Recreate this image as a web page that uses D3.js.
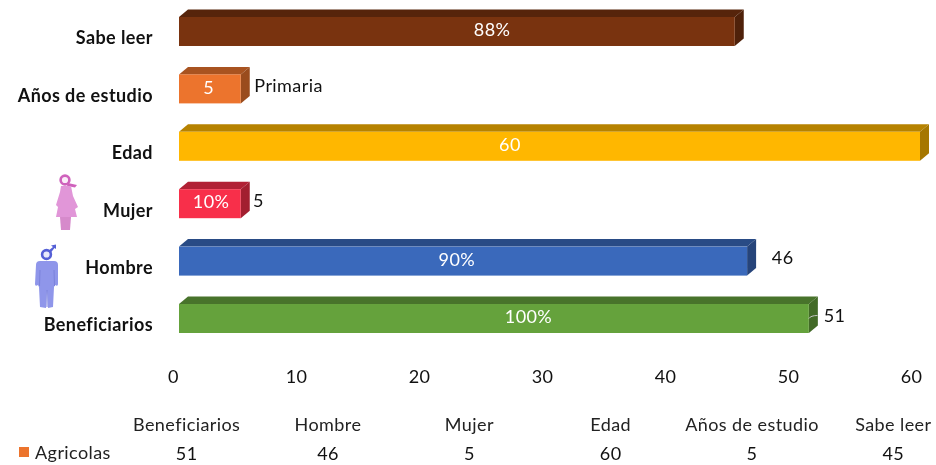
<!DOCTYPE html>
<html lang="es">
<head>
<meta charset="utf-8">
<script src="https://cdn.jsdelivr.net/npm/d3@7/dist/d3.min.js"></script>
<style>
html,body{margin:0;padding:0;background:#fff}
svg{display:block;filter:blur(.45px)}
text{font-family:Lato,"Open Sans",sans-serif;letter-spacing:.42px}
</style>
</head>
<body>
<div id="chart"></div>
<script>
// Data, bottom row upward
const categories = ["Beneficiarios","Hombre","Mujer","Edad","Años de estudio","Sabe leer"];
const values = [51,46,5,60,5,45];
const barColors = ["#65A23C","#3A69BB","#F82F4A","#FFB700","#EC742D","#79330F"];
const innerLabels = ["100%","90%","10%","60","5","88%"];
const innerLabelAt = [28.3,22.5,2.6,26.8,2.4,25.35];
const outerLabels = ["51","46","5","","Primaria",""];
const outerLabelAt = [52.2,48.0,6.0,0,6.1,0];
const axisTicks = [0,10,20,30,40,50,60];
const seriesName = "Agricolas";

const W = 936, H = 465, fs = 18;
const svg = d3.select("#chart").append("svg").attr("width",W).attr("height",H);

const x = d3.scaleLinear().domain([0,60]).range([179,920]);
const y = d3.scaleBand().domain(categories).range([333,17]).paddingInner(.495);
const col = d3.scaleBand().domain(categories).range([116,964]);
const dx = 9, dy = 7.5;

const rows = categories.map((c,i)=>({c,v:values[i],color:barColors[i],inner:innerLabels[i],innerAt:innerLabelAt[i],outer:outerLabels[i],outerAt:outerLabelAt[i]}));

// 3D bars
const bar = svg.append("g").selectAll("g").data(rows).join("g");
bar.append("path")
  .attr("fill",d=>d3.color(d.color).darker(.95))
  .attr("d",d=>{const a=x(0),b=x(d.v),t=y(d.c);return `M${a},${t}L${a+dx},${t-dy}L${b+dx},${t-dy}L${b},${t}Z`;});
bar.append("path")
  .attr("fill",d=>d3.color(d.color).darker(1.2))
  .attr("d",d=>{const b=x(d.v),t=y(d.c),h=y.bandwidth();return `M${b},${t}L${b+dx},${t-dy}L${b+dx},${t+h-dy}L${b},${t+h}Z`;});
bar.append("rect")
  .attr("x",x(0)).attr("y",d=>y(d.c))
  .attr("width",d=>x(d.v)-x(0)).attr("height",y.bandwidth())
  .attr("fill",d=>d.color);

// Labels inside bars
bar.append("text")
  .attr("x",d=>x(d.innerAt)).attr("y",d=>y(d.c)+y.bandwidth()/2-2.3)
  .attr("text-anchor","middle").attr("dominant-baseline","central")
  .attr("font-size",fs).attr("fill","#fff").text(d=>d.inner);

// Labels beside bars
bar.filter(d=>d.outer).append("text")
  .attr("x",d=>x(d.outerAt)).attr("y",d=>y(d.c)+y.bandwidth()/2-3.7)
  .attr("text-anchor","start").attr("dominant-baseline","central")
  .attr("font-size",fs).attr("fill","#111").text(d=>d.outer);

// Leader line on the Beneficiarios label
const lead = rows[0];
svg.append("path").attr("fill","none").attr("stroke","#c4c4c4").attr("stroke-width",1)
  .attr("d",`M${x(lead.v)},${y(lead.c)+y.bandwidth()/2}q2,-3,${x(lead.v+.7)-x(lead.v)},-3`);

// Category axis labels
svg.append("g").selectAll("text").data(categories).join("text")
  .attr("x",153).attr("y",d=>y(d)+y.bandwidth()/2+5.8)
  .attr("text-anchor","end").attr("dominant-baseline","central")
  .attr("font-size",fs).attr("font-weight",700).attr("fill","#111").text(d=>d);

// Value axis
const axis = svg.append("g").attr("transform","translate(-6,370)")
  .call(d3.axisBottom(d3.scaleLinear().domain([0,60]).range([179,917])).tickValues(axisTicks).tickSize(0).tickPadding(0));
axis.select(".domain").remove();
axis.selectAll("text").attr("font-size",fs).attr("fill","#111").style("font-family","Lato");

// Data table
const table = svg.append("g");
table.selectAll("text.h").data(categories).join("text").attr("class","h")
  .attr("x",d=>col(d)+col.bandwidth()/2).attr("y",424)
  .attr("text-anchor","middle").attr("dominant-baseline","central")
  .attr("font-size",fs).attr("fill","#222").text(d=>d);
table.selectAll("text.v").data(values).join("text").attr("class","v")
  .attr("x",(d,i)=>col(categories[i])+col.bandwidth()/2).attr("y",453)
  .attr("text-anchor","middle").attr("dominant-baseline","central")
  .attr("font-size",fs).attr("fill","#111").text(d=>d);
table.append("rect").attr("x",19).attr("y",447).attr("width",10).attr("height",10).attr("fill","#EC742D");
table.append("text").attr("x",35).attr("y",452).attr("dominant-baseline","central")
  .attr("font-size",fs).attr("fill","#222").text(seriesName);

// Decorative figures
const woman = svg.append("g").attr("fill","#E196D8");
woman.append("circle").attr("cx",65).attr("cy",180).attr("r",4.4).attr("fill","#fbeef9").attr("stroke","#CF62BC").attr("stroke-width",2.6);
woman.append("path").attr("fill","#CF62BC").attr("d","M68,183L77,185L75,187.5L67,186Z");
woman.append("path").attr("d","M61,186L71,186L73,196L78,207L75,209L77,217L56,217L58,207L56,205L60,192Z");
woman.append("path").attr("fill","#D68ACB").attr("d","M60,217L71,217L70,230L61,230Z");
const man = svg.append("g").attr("fill","#8F96EA");
man.append("circle").attr("cx",46.5).attr("cy",254.5).attr("r",4.4).attr("fill","#e9eafb").attr("stroke","#5560D6").attr("stroke-width",2.6);
man.append("path").attr("fill","#5560D6").attr("d","M48,251L53,247L51,245.5L56,244.5L56,249L54.5,248L50.5,253Z");
man.append("path").attr("d","M36,265Q36,261,40,261L54,261Q58,261,58,265L58,284Q58,287,55,285L54,287L53,307L48,308L47,290L46,308L40,307L39,287L38,285Q35,287,35,284Z");
man.append("path").attr("stroke","#7B82DC").attr("stroke-width",1).attr("fill","none").attr("d","M40,270L39.5,286M54,270L54.5,286M47,290L47,307");
</script>
</body>
</html>
